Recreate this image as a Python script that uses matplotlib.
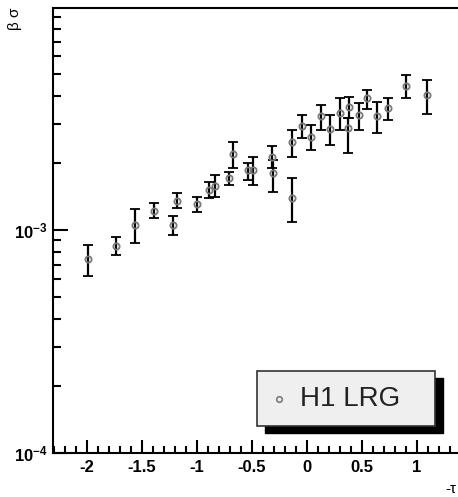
import matplotlib
matplotlib.use('Agg')
import matplotlib.pyplot as plt
from matplotlib.patches import Rectangle
from matplotlib.lines import Line2D
from matplotlib.ticker import MultipleLocator, LogLocator, FuncFormatter
import numpy as np

plt.rcParams['font.family'] = ['Liberation Sans', 'DejaVu Sans']
plt.rcParams['mathtext.fontset'] = 'custom'
plt.rcParams['mathtext.rm'] = 'Liberation Sans:bold'
plt.rcParams['mathtext.bf'] = 'Liberation Sans:bold'

# H1 LRG points (y in units of 1e-3), with lower / upper error bounds
tau = [-1.99, -1.74, -1.56, -1.39, -1.22, -1.18, -1.00, -0.89, -0.84, -0.71,
       -0.67, -0.54, -0.49, -0.32, -0.31, -0.14, -0.14, -0.05, 0.04, 0.13,
       0.21, 0.30, 0.38, 0.37, 0.47, 0.55, 0.64, 0.74, 0.90, 1.09]
bsig = [0.74, 0.85, 1.05, 1.22, 1.05, 1.35, 1.31, 1.51, 1.58, 1.71,
        2.19, 1.86, 1.86, 2.13, 1.80, 1.39, 2.48, 2.93, 2.61, 3.25,
        2.84, 3.35, 3.56, 2.87, 3.28, 3.91, 3.25, 3.52, 4.42, 4.03]
bsig_hi = [0.86, 0.93, 1.24, 1.32, 1.16, 1.47, 1.41, 1.64, 1.76, 1.82,
           2.48, 2.00, 2.13, 2.38, 2.06, 1.71, 2.81, 3.28, 2.96, 3.64,
           3.28, 3.91, 3.95, 3.18, 3.71, 4.25, 3.75, 3.91, 4.96, 4.71]
bsig_lo = [0.62, 0.77, 0.87, 1.13, 0.95, 1.26, 1.20, 1.39, 1.41, 1.59,
           1.90, 1.68, 1.59, 1.90, 1.48, 1.09, 2.13, 2.59, 2.28, 2.81,
           2.41, 2.81, 3.18, 2.22, 2.81, 3.49, 2.72, 3.11, 3.91, 3.31]
legend_label = 'H1 LRG'

W, H = 458, 497
fig = plt.figure(figsize=(W / 100, H / 100), dpi=100)
ax = fig.add_axes([53 / W, 1 - 453 / H, 1 - 53 / W, (453 - 8) / H])

y = np.array(bsig) * 1e-3
yerr = [y - np.array(bsig_lo) * 1e-3, np.array(bsig_hi) * 1e-3 - y]
ax.errorbar(tau, y, yerr=yerr, fmt='o', color='black', ecolor='black',
            elinewidth=1.6, capsize=3.6, capthick=1.6,
            ms=4.5, mfc='none', mec='#7a7a7a', mew=1.3)

ax.set_yscale('log')
ax.set_xlim(-2.31, 1.373)
ax.set_ylim(1e-4, 9.9e-3)

ax.xaxis.set_major_locator(MultipleLocator(0.5))
ax.xaxis.set_minor_locator(MultipleLocator(0.1))
ax.yaxis.set_major_locator(LogLocator(base=10))
ax.yaxis.set_minor_locator(LogLocator(base=10, subs=np.arange(2, 10)))
ax.xaxis.set_major_formatter(FuncFormatter(lambda v, p: '0' if abs(v) < 1e-9 else f'{v:g}'))
ax.yaxis.set_major_formatter(FuncFormatter(
    lambda v, p: r'$\mathbf{10^{%d}}$' % int(round(np.log10(v)))))

ax.tick_params(which='both', direction='in', width=1.5, top=False, right=False)
ax.tick_params(axis='x', which='major', length=9.5, pad=5, labelsize=12)
ax.tick_params(axis='x', which='minor', length=5)
ax.tick_params(axis='y', which='major', length=11, pad=4, labelsize=12)
ax.tick_params(axis='y', which='minor', length=6)
for lab in ax.get_xticklabels():
    lab.set_fontweight('bold')

for s in ['left', 'bottom', 'top']:
    ax.spines[s].set_linewidth(1.5)
ax.spines['right'].set_visible(False)

fig.text(15 / W, 1 - 8 / H, 'β σ', rotation=90, ha='center', va='top', fontsize=11)
fig.text(445 / W, 1 - 489 / H, '-τ', ha='left', va='center', fontsize=11)

# legend box with ROOT-style shadow
bx, by, bw, bh = 257, 371, 178, 55
fig.patches.append(Rectangle(((bx + 8) / W, 1 - (by + bh + 7) / H), bw / W, bh / H,
                             transform=fig.transFigure, facecolor='black',
                             edgecolor='black', zorder=5))
fig.patches.append(Rectangle((bx / W, 1 - (by + bh) / H), bw / W, bh / H,
                             transform=fig.transFigure, facecolor='#efefef',
                             edgecolor='#333333', lw=1.2, zorder=6))
fig.lines.append(Line2D([279 / W], [1 - 399 / H], transform=fig.transFigure,
                        marker='o', ms=4, mfc='none', mec='#7a7a7a', mew=1.2,
                        zorder=7))
fig.text(300 / W, 1 - 399 / H, legend_label, ha='left', va='center',
         fontsize=20, color='#222222', zorder=8)

fig.savefig('out.png', dpi=100)
